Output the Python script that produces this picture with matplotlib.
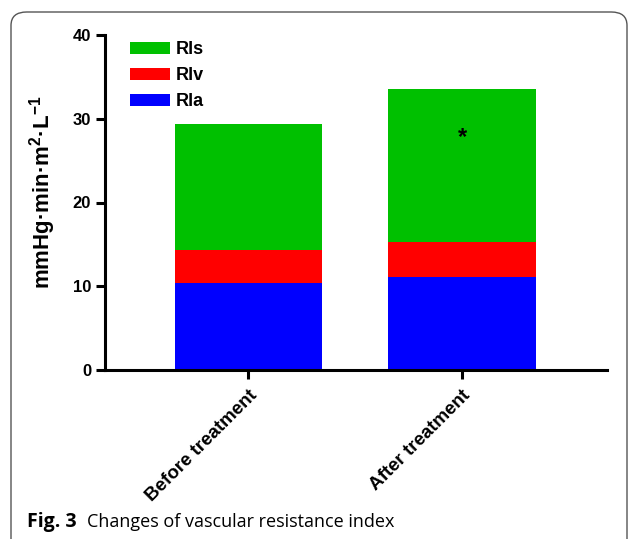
import matplotlib
matplotlib.use("Agg")
import matplotlib.pyplot as plt
from matplotlib.patches import FancyBboxPatch

categories = ["Before treatment", "After treatment"]
rla = [10.4, 11.1]
rlv = [3.9, 4.2]
rls = [15.1, 18.2]
series_labels = ["Rls", "Rlv", "Rla"]
colors = {"Rla": "#0000FF", "Rlv": "#FF0000", "Rls": "#00C000"}
yticks = [0, 10, 20, 30, 40]

plt.rcParams["font.family"] = ["Liberation Sans", "DejaVu Sans"]
plt.rcParams["mathtext.fontset"] = "custom"
plt.rcParams["mathtext.rm"] = "Liberation Sans:bold"
plt.rcParams["mathtext.bf"] = "Liberation Sans:bold"
plt.rcParams["mathtext.it"] = "Liberation Sans:bold"
plt.rcParams["mathtext.default"] = "bf"

fig = plt.figure(figsize=(6.3, 5.39), dpi=100)

# rounded frame around the figure
frame = FancyBboxPatch((11 / 630, -0.05), 616 / 630, 1 - 12 / 539 + 0.05,
                       boxstyle="round,pad=0,rounding_size=0.025",
                       transform=fig.transFigure, fill=False,
                       edgecolor="#555555", linewidth=1.0)
fig.add_artist(frame)

ax = fig.add_axes([105 / 630, 1 - 370 / 539, 502 / 630, 335 / 539])

x = list(range(len(categories)))
w = 0.69
b1 = ax.bar(x, rla, width=w, color=colors["Rla"], label="Rla")
b2 = ax.bar(x, rlv, width=w, bottom=rla, color=colors["Rlv"], label="Rlv")
bottom2 = [a + b for a, b in zip(rla, rlv)]
b3 = ax.bar(x, rls, width=w, bottom=bottom2, color=colors["Rls"], label="Rls")

ax.text(1, 27.7, "*", ha="center", va="center", fontsize=17, fontweight="bold")

ax.set_xlim(-0.672, 1.679)
ax.set_ylim(0, 40)
ax.set_yticks(yticks)
ax.set_xticks(x)
ax.set_xticklabels(categories, rotation=45, ha="right", rotation_mode="anchor",
                   fontsize=13.5, fontweight="bold")
for lab in ax.get_yticklabels():
    lab.set_fontsize(12)
    lab.set_fontweight("bold")

for s in ["top", "right"]:
    ax.spines[s].set_visible(False)
for s in ["left", "bottom"]:
    ax.spines[s].set_linewidth(2.2)
ax.tick_params(axis="both", width=2.2, length=6.5, direction="out")
ax.tick_params(axis="x", pad=6)

ax.set_ylabel("mmHg·min·m$^{2}$·L$^{-1}$",
              fontsize=16, fontweight="bold")
ax.yaxis.set_label_coords(-0.094, 0.53)

handles = [b3, b2, b1]
leg = ax.legend(handles, series_labels, loc="upper left",
                bbox_to_anchor=(0.018, 1.03), frameon=False,
                prop={"weight": "bold", "size": 13},
                handlelength=2.2, handleheight=0.67, labelspacing=0.5,
                handletextpad=0.33)

fig.text(27 / 630, 1 - 522 / 539, "Fig. 3", fontsize=14, fontweight="bold",
         va="center", ha="left", family="Open Sans")
fig.text(87 / 630, 1 - 522 / 539, "Changes of vascular resistance index",
         fontsize=13, va="center", ha="left", family="Open Sans")

fig.savefig("out.png", dpi=100)
